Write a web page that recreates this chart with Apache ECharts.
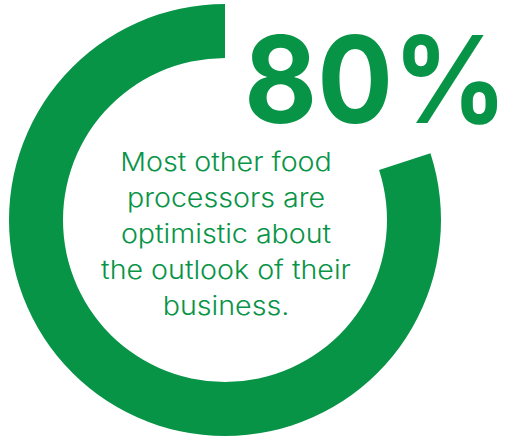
<!DOCTYPE html>
<html>
<head>
<meta charset="utf-8">
<style>
  html, body { margin: 0; padding: 0; background: #ffffff; }
  #chart { width: 509px; height: 441px; }
</style>
<script src="https://cdn.jsdelivr.net/npm/echarts@6/dist/echarts.min.js"></script>
</head>
<body>
<div id="chart"></div>
<script>
// Share of processors that are optimistic, and the remainder
const shareLabels = ['Not optimistic', 'Optimistic'];
const shareValues = [20, 80];
const captionLines = [
  'Most other food',
  'processors are',
  'optimistic about',
  'the outlook of their',
  'business.'
];

const GREEN = '#089447';

const chart = echarts.init(document.getElementById('chart'), null, { renderer: 'svg' });

const pieData = shareLabels.map((name, i) => ({
  name,
  value: shareValues[i],
  itemStyle: { color: i === 1 ? GREEN : 'rgba(0,0,0,0)' }
}));

chart.setOption({
  backgroundColor: '#ffffff',
  animation: false,
  series: [{
    type: 'pie',
    center: [225, 220],
    radius: [162, 216],
    startAngle: 90,
    clockwise: true,
    silent: true,
    label: { show: false },
    labelLine: { show: false },
    emphasis: { disabled: true },
    data: pieData
  }],
  graphic: [
    {
      type: 'text',
      x: 244,
      y: 18,
      scaleX: 0.93,
      style: {
        x: 0,
        y: 0,
        text: shareValues[1] + '%',
        font: 'bold 121px Inter',
        fill: GREEN
      }
    },
    {
      type: 'text',
      x: 226,
      y: 144,
      scaleX: 1.1,
      style: {
        x: 0,
        y: 0,
        text: captionLines.join('\n'),
        font: '300 26px Inter',
        lineHeight: 36,
        textAlign: 'center',
        fill: GREEN
      }
    }
  ]
});
</script>
</body>
</html>
